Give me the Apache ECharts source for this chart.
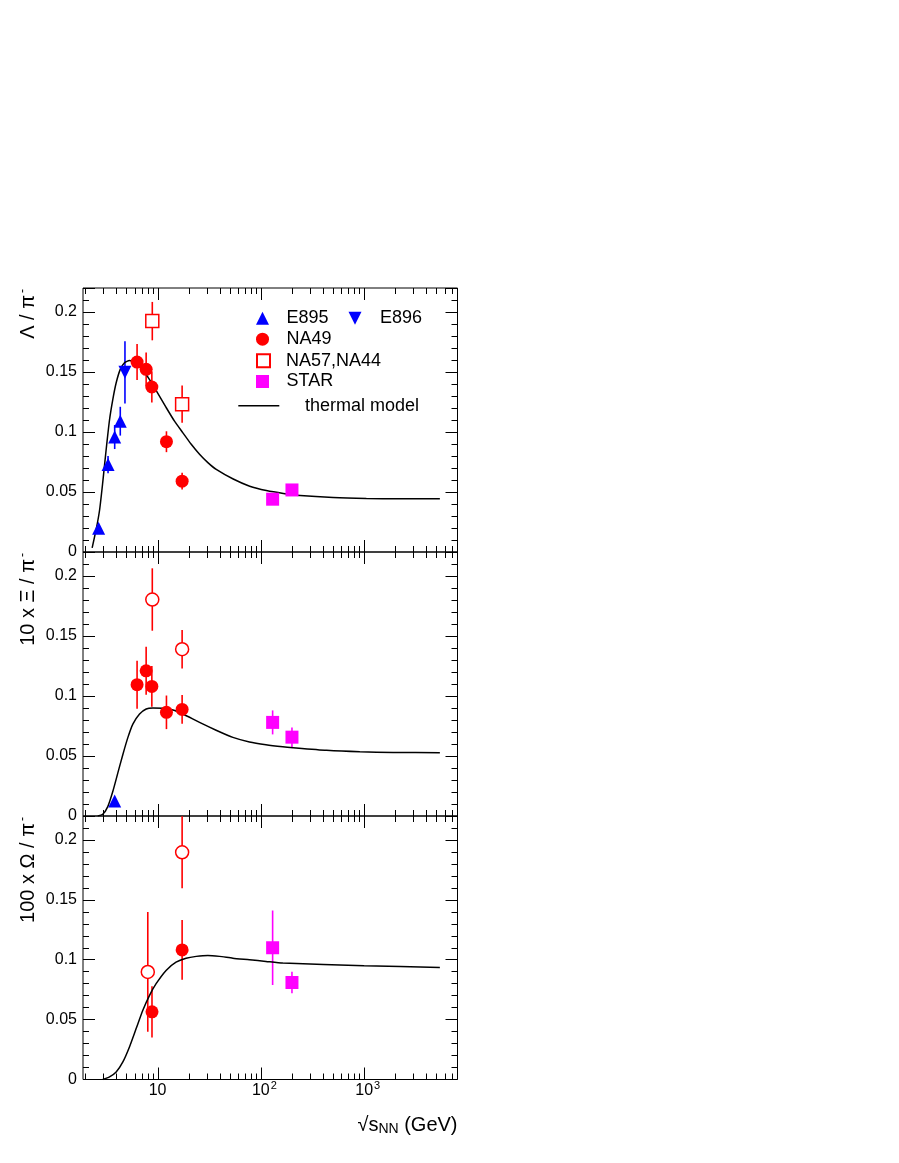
<!DOCTYPE html>
<html><head><meta charset="utf-8">
<script src="https://cdn.jsdelivr.net/npm/echarts@6/dist/echarts.min.js"></script>
<style>html,body{margin:0;padding:0;background:#fff}#chart{width:899px;height:1163px}</style>
</head><body><div id="chart"></div>
<script>
// ---------------- data: [sqrt(s_NN) GeV, value, error] ----------------
// Panel 1: Lambda / pi-
const lamE895 = [[2.69,0.0198,0.002],[3.32,0.0729,0.0072],[3.85,0.0958,0.010],[4.36,0.109,0.012]];
const lamE896 = [[4.84,0.1497,0.026]];
const lamNA49 = [[6.34,0.1583,0.015],[7.76,0.1522,0.014],[8.81,0.1375,0.013],[12.2,0.0919,0.0087],[17.3,0.059,0.007]];
const lamNA57 = [[8.9,0.1924,0.016],[17.3,0.1232,0.0155]];
const lamSTAR = [[130,0.044,0.002],[200,0.0517,0.002]];
const lamModel = [[2.33,0.0035],[2.55,0.019],[2.75,0.035],[2.95,0.058],[3.18,0.085],[3.43,0.110],[3.69,0.127],[3.98,0.141],[4.35,0.152],[4.79,0.1577],[5.35,0.1596],[5.99,0.158],[6.94,0.1535],[8.37,0.1437],[10.07,0.1322],[12.1,0.1205],[14.6,0.109],[17.6,0.0993],[21.1,0.0900],[25.5,0.0815],[30.7,0.0745],[37,0.0688],[54,0.0608],[78,0.0548],[113,0.0512],[165,0.0488],[240,0.0471],[500,0.0454],[1050,0.0446],[2200,0.0443],[5400,0.0443]];
// Panel 2: 10 x Xi / pi-
const xiE895 = [[3.85,0.0125,0]];
const xiNA49 = [[6.34,0.1094,0.020],[7.76,0.121,0.020],[8.81,0.108,0.017],[12.2,0.0864,0.014],[17.3,0.0888,0.012]];
const xiNA57 = [[8.9,0.1804,0.026],[17.3,0.139,0.016]];
const xiSTAR = [[130,0.078,0.010],[200,0.0657,0.0081]];
const xiModel = [[2.64,0.0],[2.95,0.0014],[3.3,0.0078],[3.69,0.0204],[4.13,0.0359],[4.62,0.0513],[5.16,0.0653],[5.77,0.0766],[6.7,0.085],[7.77,0.0892],[9.0,0.090],[11.3,0.0897],[14.1,0.0884],[17.6,0.085],[25.5,0.078],[36.9,0.0715],[53.6,0.0655],[77.6,0.0617],[112,0.0594],[163,0.0577],[205,0.0569],[432,0.0547],[908,0.0535],[1910,0.053],[5400,0.0527]];
// Panel 3: 100 x Omega / pi-
const omNA49 = [[8.84,0.0565,0.0214],[17.3,0.1082,0.025]];
const omNA57 = [[8.05,0.0898,0.05],[17.3,0.1897,0.03]];
const omSTAR = [[130,0.110,0.031],[200,0.081,0.009]];
const omModel = [[2.95,0.0],[3.43,0.0022],[3.98,0.0063],[4.62,0.0147],[5.35,0.0272],[6.21,0.0425],[7.21,0.0578],[8.37,0.0703],[9.69,0.080],[12.1,0.0911],[15.1,0.098],[18.9,0.1013],[23.7,0.1028],[30.7,0.1036],[39.8,0.1028],[53.6,0.1013],[77.6,0.100],[112,0.0986],[163,0.0972],[1000,0.095],[5400,0.0936]];

// axis ticks
const xMajorTicks = [10, 100, 1000];
const xMinorTicks = [2,3,4,5,6,7,8,9,20,30,40,50,60,70,80,90,200,300,400,500,600,700,800,900,2000,3000,4000,5000,6000,7000];
const yTickStep = 0.05;

const panelTitles = ['Λ / π', '10 x Ξ / π', '100 x Ω / π'];
const xTitle = ['√s', 'NN', ' (GeV)'];

// ---------------- layout / style ----------------
const FONT = '"Liberation Sans", Arial, Helvetica, sans-serif';
const X_MIN = 1.9, X_MAX = 8000, Y_MIN = 0, Y_MAX = 0.22;
const BLUE = '#0000ff', RED = '#ff0000', MAG = '#ff00ff';
const GRID_LEFT = 83, GRID_W = 374.5;
const gridTops = [288, 552, 816];
const gridHeights = [264, 264, 263.5];

const chart = echarts.init(document.getElementById('chart'), null, {renderer: 'canvas'});

const grids = gridTops.map((t, i) => ({left: GRID_LEFT, top: t, width: GRID_W, height: gridHeights[i],
  show: true, borderColor: '#000', borderWidth: 1, backgroundColor: 'transparent', containLabel: false}));

function xLabelFmt(v) {
  const e = Math.log10(v);
  const r = Math.round(e);
  if (Math.abs(e - r) > 1e-6 || r < 1) return '';
  if (r === 1) return '{h|0}{b|10}{h|0}';
  return '{h|' + r + '}{b|10}{s|' + r + '}';
}

const xAxes = [0, 1, 2].map(i => ({
  type: 'log', logBase: 10, gridIndex: i, min: X_MIN, max: X_MAX,
  axisLine: {show: false}, axisTick: {show: false}, splitLine: {show: false}, minorTick: {show: false},
  axisLabel: i === 2 ? {
    show: true, formatter: xLabelFmt, margin: 3, color: '#000', fontFamily: FONT, fontSize: 16,
    showMinLabel: false, showMaxLabel: false,
    rich: {
      b: {fontSize: 16, fontFamily: FONT, color: '#000', lineHeight: 16},
      s: {fontSize: 11, fontFamily: FONT, color: '#000', lineHeight: 11, padding: [0, 0, 10, 1]},
      h: {fontSize: 11, fontFamily: FONT, color: 'rgba(0,0,0,0)', lineHeight: 11, padding: [0, 1, 10, 0]}
    }
  } : {show: false}
}));

const yAxes = [];
[0, 1, 2].forEach(i => {
  ['left', 'right'].forEach(pos => {
    yAxes.push({
      type: 'value', gridIndex: i, position: pos, min: Y_MIN, max: Y_MAX, interval: yTickStep,
      axisLine: {show: false}, splitLine: {show: false}, minorSplitLine: {show: false},
      axisTick: {show: true, inside: true, length: 12, lineStyle: {color: '#000', width: 1}},
      minorTick: {show: true, splitNumber: 5, length: 6, lineStyle: {color: '#000', width: 1}},
      axisLabel: pos === 'left' ? {show: true, showMaxLabel: false, fontSize: 16, fontFamily: FONT, color: '#000', margin: 6} : {show: false}
    });
  });
});

const series = [];

function tickSeries(i, values, len) {
  return {
    type: 'custom', xAxisIndex: i, yAxisIndex: 2 * i, silent: true, clip: false, z: 5,
    data: values.map(v => [v, Y_MIN]),
    renderItem: function (params, api) {
      const v = api.value(0);
      const b = api.coord([v, Y_MIN]);
      const t = api.coord([v, Y_MAX]);
      const x = Math.round(b[0]) + 0.5;
      return {type: 'group', children: [
        {type: 'line', shape: {x1: x, y1: b[1], x2: x, y2: b[1] - len}, style: {stroke: '#000', lineWidth: 1}},
        {type: 'line', shape: {x1: x, y1: t[1], x2: x, y2: t[1] + len}, style: {stroke: '#000', lineWidth: 1}}
      ]};
    }
  };
}

function errSeries(i, arr, color) {
  return {
    type: 'custom', xAxisIndex: i, yAxisIndex: 2 * i, silent: true, clip: true, z: 3,
    data: arr.map(d => [d[0], d[1], d[2]]),
    encode: {x: 0, y: 1},
    renderItem: function (params, api) {
      const x = api.value(0), y = api.value(1), e = api.value(2);
      if (!e) return null;
      const lo = api.coord([x, y - e]);
      const hi = api.coord([x, y + e]);
      return {type: 'line', shape: {x1: lo[0], y1: lo[1], x2: hi[0], y2: hi[1]}, style: {stroke: color, lineWidth: 1.6}};
    }
  };
}

const SYM = {
  triUp: {symbol: 'triangle', size: 13},
  triDown: {symbol: 'path://M0,0 L2,0 L1,2 Z', size: 13},
  circle: {symbol: 'circle', size: 13},
  square: {symbol: 'rect', size: 13}
};

function scatterSeries(i, name, arr, sym, color, open) {
  return {
    type: 'scatter', name: name, xAxisIndex: i, yAxisIndex: 2 * i, silent: true, z: 4,
    data: arr.map(d => [d[0], d[1]]),
    symbol: sym.symbol, symbolSize: sym.size,
    itemStyle: open ? {color: '#ffffff', borderColor: color, borderWidth: 1.5, opacity: 1} : {color: color, opacity: 1}
  };
}

function modelSeries(i, arr) {
  return {
    type: 'line', name: 'thermal model', xAxisIndex: i, yAxisIndex: 2 * i, silent: true, z: 3,
    data: arr, symbol: 'none', showSymbol: false, smooth: 0.2,
    lineStyle: {color: '#000', width: 1.5}, itemStyle: {color: '#000'}
  };
}

// panel 1 (first so legend icons come from here)
series.push(errSeries(0, lamE895, BLUE), errSeries(0, lamE896, BLUE), errSeries(0, lamNA49, RED), errSeries(0, lamNA57, RED), errSeries(0, lamSTAR, MAG));
series.push(scatterSeries(0, 'E895', lamE895, SYM.triUp, BLUE));
series.push(scatterSeries(0, 'E896', lamE896, SYM.triDown, BLUE));
series.push(scatterSeries(0, 'NA49', lamNA49, SYM.circle, RED));
series.push(scatterSeries(0, 'NA57,NA44', lamNA57, SYM.square, RED, true));
series.push(scatterSeries(0, 'STAR', lamSTAR, SYM.square, MAG));
series.push(modelSeries(0, lamModel));
// panel 2
series.push(errSeries(1, xiNA49, RED), errSeries(1, xiNA57, RED), errSeries(1, xiSTAR, MAG));
series.push(scatterSeries(1, 'E895', xiE895, SYM.triUp, BLUE));
series.push(scatterSeries(1, 'NA49', xiNA49, SYM.circle, RED));
series.push(scatterSeries(1, 'NA57 Xi', xiNA57, SYM.circle, RED, true));
series.push(scatterSeries(1, 'STAR', xiSTAR, SYM.square, MAG));
series.push(modelSeries(1, xiModel));
// panel 3
series.push(errSeries(2, omNA49, RED), errSeries(2, omNA57, RED), errSeries(2, omSTAR, MAG));
series.push(scatterSeries(2, 'NA49', omNA49, SYM.circle, RED));
series.push(scatterSeries(2, 'NA57 Omega', omNA57, SYM.circle, RED, true));
series.push(scatterSeries(2, 'STAR', omSTAR, SYM.square, MAG));
series.push(modelSeries(2, omModel));
// ticks
[0, 1, 2].forEach(i => {
  series.push(tickSeries(i, xMajorTicks, 12));
  series.push(tickSeries(i, xMinorTicks, 6));
});

function legendItem(name, left, top, iw, ih, pad, icon) {
  const item = icon ? {name: name, icon: icon} : name;
  return {
    data: [item], left: left, top: top, orient: 'horizontal', padding: 0,
    itemWidth: iw, itemHeight: ih, selectedMode: false,
    textStyle: {fontSize: 18, fontFamily: FONT, color: '#000', lineHeight: 13, padding: [0, 0, 0, pad]}
  };
}
const legends = [
  legendItem('E895', 256, 309.2, 13, 13, 12.5),
  legendItem('E896', 348.5, 309.2, 13, 13, 13.5),
  legendItem('NA49', 256, 330.2, 13, 13, 12.5),
  legendItem('NA57,NA44', 256, 351.8, 13, 13, 11),
  legendItem('STAR', 256, 372.5, 13, 13, 12.5),
  legendItem('thermal model', 238.3, 396.8, 41, 1.5, 20.7, 'rect')
];

const titleRich = {
  a: {fontSize: 20, fontFamily: FONT, color: '#000', lineHeight: 20},
  s: {fontSize: 12, fontFamily: FONT, color: '#000', lineHeight: 12, padding: [0, 0, 10, 2]}
};
const graphics = panelTitles.map((t, i) => ({
  type: 'text', x: 28, y: gridTops[i] + 1, rotation: Math.PI / 2, silent: true,
  style: {text: '{a|' + t + '}{s|-}', rich: titleRich, align: 'right', verticalAlign: 'middle', fill: '#000', font: '20px ' + FONT}
}));
graphics.push({
  type: 'text', x: 457.5, y: 1125, silent: true,
  style: {
    text: '{a|' + xTitle[0] + '}{n|' + xTitle[1] + '}{a|' + xTitle[2] + '}', align: 'right', verticalAlign: 'middle', fill: '#000',
    font: '20px ' + FONT,
    rich: {
      a: {fontSize: 20, fontFamily: FONT, color: '#000', lineHeight: 20},
      n: {fontSize: 14, fontFamily: FONT, color: '#000', lineHeight: 14, padding: [9, 0, 0, 0]}
    }
  }
});

chart.setOption({
  animation: false,
  backgroundColor: '#fff',
  grid: grids,
  xAxis: xAxes,
  yAxis: yAxes,
  legend: legends,
  graphic: graphics,
  series: series
});
</script></body></html>
